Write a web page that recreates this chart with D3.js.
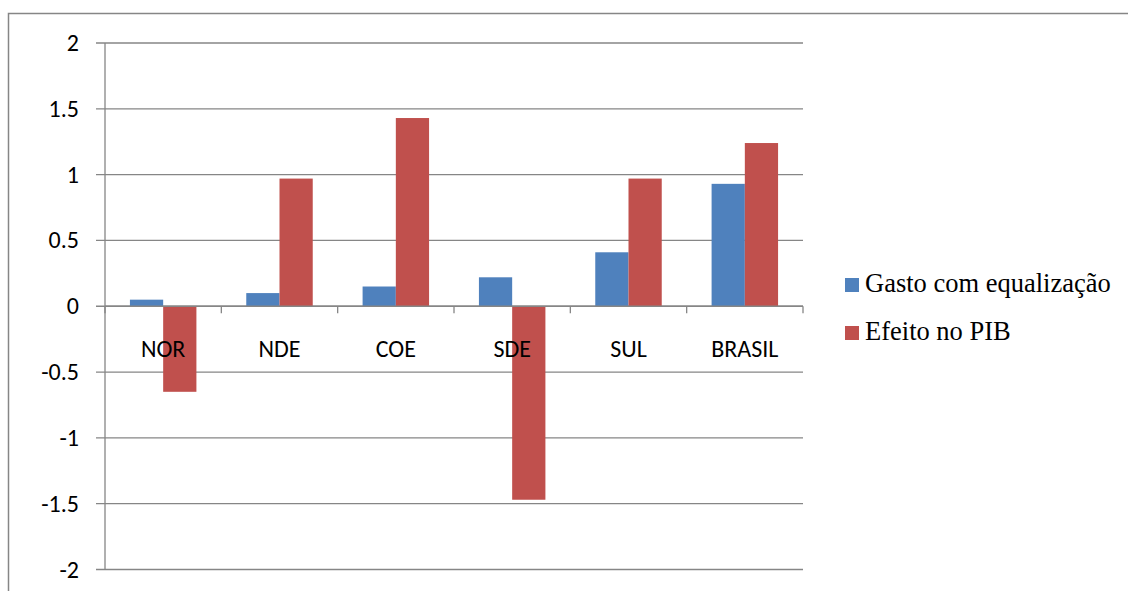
<!DOCTYPE html>
<html>
<head>
<meta charset="utf-8">
<script src="https://cdn.jsdelivr.net/npm/d3@7"></script>
<style>
  body { margin: 0; background: #fff; }
  svg { display: block; }
  .sans { font-family: Carlito, Calibri, "Open Sans", sans-serif; }
  .serif { font-family: "Liberation Serif", "Times New Roman", serif; }
</style>
</head>
<body>
<svg id="chart" width="1128" height="591"></svg>
<script>
const categories = ["NOR", "NDE", "COE", "SDE", "SUL", "BRASIL"];
const seriesNames = ["Gasto com equalização", "Efeito no PIB"];
const gasto = [0.05, 0.10, 0.15, 0.22, 0.41, 0.93];
const efeito = [-0.65, 0.97, 1.43, -1.47, 0.97, 1.24];
const yTicks = [2, 1.5, 1, 0.5, 0, -0.5, -1, -1.5, -2];
const colors = ["#4f81bd", "#c0504d"];

const svg = d3.select("#chart");

// outer frame
svg.append("rect")
  .attr("x", 8.5).attr("y", 13.5)
  .attr("width", 1200).attr("height", 700)
  .attr("fill", "none").attr("stroke", "#868686").attr("stroke-width", 1.5);

const plotLeft = 105, plotRight = 803, plotTop = 43, plotBottom = 569.5;

const x = d3.scaleBand().domain(categories).range([plotLeft, plotRight]);
const y = d3.scaleLinear().domain([-2, 2]).range([plotBottom, plotTop]);
const sub = d3.scaleBand().domain([0, 1]).range([0, x.bandwidth()]).paddingInner(0).paddingOuter(0.75);

// gridlines + y labels
const g = svg.append("g");
g.selectAll("line.grid")
  .data(yTicks)
  .enter().append("line")
  .attr("x1", plotLeft - 9).attr("x2", plotRight)
  .attr("y1", d => y(d)).attr("y2", d => y(d))
  .attr("stroke", "#868686").attr("stroke-width", 1.3);

g.selectAll("text.ylab")
  .data(yTicks)
  .enter().append("text")
  .attr("class", "sans")
  .attr("x", 79).attr("y", d => y(d) + 8)
  .attr("text-anchor", "end")
  .attr("font-size", "24px")
  .attr("fill", "#000")
  .text(d => d);

// y axis line
g.append("line")
  .attr("x1", plotLeft).attr("x2", plotLeft)
  .attr("y1", plotTop).attr("y2", plotBottom)
  .attr("stroke", "#868686").attr("stroke-width", 1.3);

// bars
const series = [gasto, efeito];
series.forEach((vals, si) => {
  svg.append("g").selectAll("rect")
    .data(vals)
    .enter().append("rect")
    .attr("x", (d, i) => x(categories[i]) + sub(si))
    .attr("width", sub.bandwidth())
    .attr("y", d => y(Math.max(0, d)))
    .attr("height", d => Math.abs(y(d) - y(0)))
    .attr("fill", colors[si]);
});

// zero axis + category ticks
svg.append("line")
  .attr("x1", plotLeft).attr("x2", plotRight)
  .attr("y1", y(0)).attr("y2", y(0))
  .attr("stroke", "#868686").attr("stroke-width", 1.3);

const tickXs = categories.map(c => x(c)).concat([plotRight]);
svg.selectAll("line.ctick")
  .data(tickXs)
  .enter().append("line")
  .attr("x1", d => d).attr("x2", d => d)
  .attr("y1", y(0)).attr("y2", y(0) + 7)
  .attr("stroke", "#868686").attr("stroke-width", 1.3);

svg.selectAll("text.cat")
  .data(categories)
  .enter().append("text")
  .attr("class", "sans")
  .attr("x", d => x(d) + x.bandwidth() / 2)
  .attr("y", 357)
  .attr("text-anchor", "middle")
  .attr("font-size", "24px")
  .attr("fill", "#000")
  .text(d => d);

// legend
const legend = svg.append("g");
seriesNames.forEach((name, i) => {
  const ly = 292 + i * 48;
  legend.append("rect")
    .attr("x", 845).attr("y", ly - 14)
    .attr("width", 14).attr("height", 14)
    .attr("fill", colors[i]);
  legend.append("text")
    .attr("class", "serif")
    .attr("x", 865).attr("y", ly)
    .attr("font-size", "26.5px")
    .attr("fill", "#000")
    .text(name);
});
</script>
</body>
</html>
